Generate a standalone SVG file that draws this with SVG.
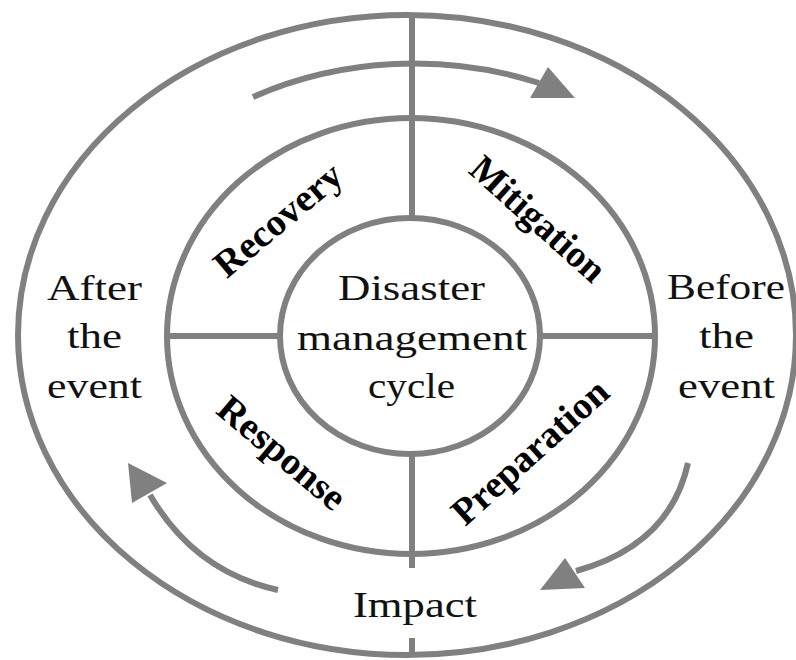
<svg xmlns="http://www.w3.org/2000/svg" width="796" height="660" viewBox="0 0 796 660">
  <style>
    .ring { fill: none; stroke: #808080; stroke-width: 6; }
    .line { stroke: #808080; stroke-width: 6; fill: none; }
    .head { fill: #808080; stroke: none; }
    .txt { font-family: "Liberation Serif", "Times New Roman", serif; font-size: 36px; fill: #111; text-anchor: middle; }
    .lbl { font-family: "Liberation Serif", "Times New Roman", serif; font-size: 38px; font-weight: bold; fill: #000; text-anchor: middle; }
  </style>
  <rect width="796" height="660" fill="#fff"/>
  <g id="rings">
    <ellipse id="outer-ring" class="ring" cx="407" cy="335" rx="389" ry="320"/>
    <ellipse id="middle-ring" class="ring" cx="411" cy="336" rx="244" ry="218"/>
  </g>
  <g id="connectors">
    <line class="line" x1="412" y1="15" x2="412" y2="218"/>
    <line class="line" x1="412" y1="454" x2="412" y2="568"/>
    <line class="line" x1="412" y1="638" x2="412" y2="655"/>
    <line class="line" x1="167" y1="336" x2="280" y2="336"/>
    <line class="line" x1="540" y1="336" x2="655" y2="336"/>
    <path class="line" d="M253,97 A335,271 0 0 1 539,83"/>
    <polygon class="head" points="548,67 530,98 575,98"/>
    <path class="line" d="M688,463 Q670,545 576,571"/>
    <polygon class="head" points="565,558 585,588 540,590"/>
    <path class="line" d="M278,590 Q195,572 150,495"/>
    <polygon class="head" points="128,463 132,503 167,483"/>
  </g>
  <g id="center-node">
    <ellipse class="ring" cx="410" cy="336" rx="130" ry="118"/>
    <text class="txt" x="411.5" y="300" textLength="147" lengthAdjust="spacingAndGlyphs">Disaster</text>
    <text class="txt" x="412" y="350" textLength="230" lengthAdjust="spacingAndGlyphs">management</text>
    <text class="txt" x="411.5" y="398" textLength="87" lengthAdjust="spacingAndGlyphs">cycle</text>
  </g>
  <g id="recovery">
    <text class="lbl" transform="translate(279,221) rotate(-40)" x="0" y="11" textLength="155" lengthAdjust="spacingAndGlyphs">Recovery</text>
  </g>
  <g id="mitigation">
    <text class="lbl" transform="translate(537,220) rotate(42)" x="0" y="11" textLength="168" lengthAdjust="spacingAndGlyphs">Mitigation</text>
  </g>
  <g id="response">
    <text class="lbl" transform="translate(281,454) rotate(40)" x="0" y="11" textLength="155" lengthAdjust="spacingAndGlyphs">Response</text>
  </g>
  <g id="preparation">
    <text class="lbl" transform="translate(531,453) rotate(-42)" x="0" y="11" textLength="197" lengthAdjust="spacingAndGlyphs">Preparation</text>
  </g>
  <g id="after-the-event">
    <text class="txt" x="94.5" y="300" textLength="95" lengthAdjust="spacingAndGlyphs">After</text>
    <text class="txt" x="94.5" y="348" textLength="55" lengthAdjust="spacingAndGlyphs">the</text>
    <text class="txt" x="94.5" y="398" textLength="95" lengthAdjust="spacingAndGlyphs">event</text>
  </g>
  <g id="before-the-event">
    <text class="txt" x="726" y="299" textLength="118" lengthAdjust="spacingAndGlyphs">Before</text>
    <text class="txt" x="726.5" y="348" textLength="55" lengthAdjust="spacingAndGlyphs">the</text>
    <text class="txt" x="726.5" y="398" textLength="97" lengthAdjust="spacingAndGlyphs">event</text>
  </g>
  <g id="impact">
    <text class="txt" x="415" y="617" textLength="124" lengthAdjust="spacingAndGlyphs">Impact</text>
  </g>
</svg>
